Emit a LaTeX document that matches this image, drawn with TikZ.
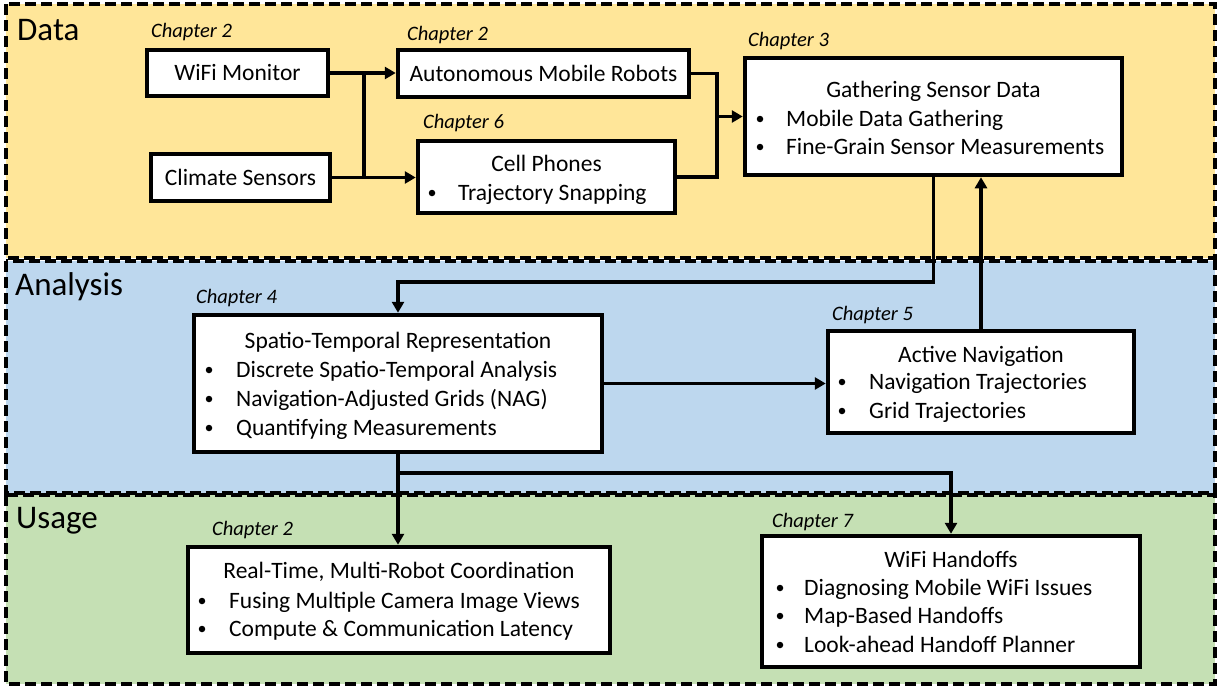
\documentclass[tikz,border=0pt]{standalone}
\usepackage{fontspec}
\setmainfont{Carlito}
\usetikzlibrary{arrows.meta,calc}
\definecolor{bandyellow}{HTML}{FFE699}
\definecolor{bandblue}{HTML}{BDD7EE}
\definecolor{bandgreen}{HTML}{C5E0B4}
\begin{document}
\begin{tikzpicture}[x=1pt,y=-1pt,
  band/.style={draw=black, line width=3.4pt, dash pattern=on 11pt off 5pt},
  box/.style={draw=black, line width=4.5pt, fill=white, inner sep=0pt,
              font=\fontsize{23.5}{28}\selectfont},
  conn/.style={draw=black, line width=3.6pt},
  arr/.style={conn, -{Triangle[length=11pt,width=12pt]}},
  chap/.style={anchor=base west, inner sep=0pt, font=\fontsize{20.5}{24}\selectfont\itshape},
  head/.style={anchor=base west, inner sep=0pt, font=\fontsize{33}{40}\selectfont},
  ttl/.style={anchor=base, inner sep=0pt, font=\fontsize{23.5}{28}\selectfont},
  itm/.style={anchor=base west, inner sep=0pt, font=\fontsize{23.5}{28}\selectfont},
  dot/.style={circle, fill=black, inner sep=0pt, minimum size=6.5pt},
]
\useasboundingbox (0,0) rectangle (1218,688);

% three stages as dashed bands
\path[band, fill=bandyellow] (6,4) rectangle (1215,258);
\path[band, fill=bandblue]   (6,261) rectangle (1215,493);
\path[band, fill=bandgreen]  (6,495) rectangle (1215,684);
\node[head] (hdata) at (17,40) {Data};
\node[head] (hanalysis) at (15,295) {Analysis};
\node[head] (husage) at (16,528) {Usage};

% boxes
\node[box, minimum width=181, minimum height=46] (wifi) at (237.5,73) {WiFi Monitor};
\node[box, minimum width=179, minimum height=47] (climate) at (240.5,177.5) {Climate Sensors};
\node[box, minimum width=291, minimum height=47] (amr) at (543.5,73.5) {Autonomous Mobile Robots};
\node[box, minimum width=257, minimum height=72] (cell) at (546.5,177) {};
\node[box, minimum width=377, minimum height=117] (gsd) at (933.5,116.5) {};
\node[box, minimum width=408, minimum height=137] (spatio) at (398,383.5) {};
\node[box, minimum width=306, minimum height=102] (an) at (981,382) {};
\node[box, minimum width=422, minimum height=106] (rt) at (399,600) {};
\node[box, minimum width=378, minimum height=131] (wh) at (951,601.5) {};

% chapter captions
\node[chap] (c-wifi) at (151,37) {Chapter 2};
\node[chap] (c-amr) at (407,40) {Chapter 2};
\node[chap] (c-cell) at (423,128) {Chapter 6};
\node[chap] (c-gsd) at (748,46) {Chapter 3};
\node[chap] (c-spatio) at (196,303) {Chapter 4};
\node[chap] (c-an) at (832,320) {Chapter 5};
\node[chap] (c-rt) at (212,535) {Chapter 2};
\node[chap] (c-wh) at (772,527) {Chapter 7};

% box contents: title and bullet items
\newcommand{\bulletitem}[5]{%
  \node[dot] (#1-d) at (#2,#4-7) {};
  \node[itm] (#1) at (#3,#4) {#5};}

\node[ttl] (cell-t) at (546.5,171) {Cell Phones};
\bulletitem{cell-1}{432}{458}{200}{Trajectory Snapping}

\node[ttl] (gsd-t) at (933.5,97) {Gathering Sensor Data};
\bulletitem{gsd-1}{760}{786}{126}{Mobile Data Gathering}
\bulletitem{gsd-2}{760}{786}{154}{Fine-Grain Sensor Measurements}

\node[ttl] (spatio-t) at (398,348) {Spatio-Temporal Representation};
\bulletitem{spatio-1}{209}{236}{377}{Discrete Spatio-Temporal Analysis}
\bulletitem{spatio-2}{209}{236}{406}{Navigation-Adjusted Grids (NAG)}
\bulletitem{spatio-3}{209}{236}{435}{Quantifying Measurements}

\node[ttl] (an-t) at (981,362) {Active Navigation};
\bulletitem{an-1}{842}{869}{389}{Navigation Trajectories}
\bulletitem{an-2}{842}{869}{418}{Grid Trajectories}

\node[ttl] (rt-t) at (399,578) {Real-Time, Multi-Robot Coordination};
\bulletitem{rt-1}{202}{229}{608}{Fusing Multiple Camera Image Views}
\bulletitem{rt-2}{202}{229}{636}{Compute \& Communication Latency}

\node[ttl] (wh-t) at (951,567) {WiFi Handoffs};
\bulletitem{wh-1}{780}{804}{595}{Diagnosing Mobile WiFi Issues}
\bulletitem{wh-2}{780}{804}{623}{Map-Based Handoffs}
\bulletitem{wh-3}{780}{804}{652}{Look-ahead Handoff Planner}

% connectors
\coordinate (j1) at (364,0);
\coordinate (j2) at (717,0);
\coordinate (bend) at (398,282);
\coordinate (split) at (398,473);

\draw[conn, line width=4.6pt] (wifi.east -| j1) -- (climate.east -| j1);
\draw[arr] (wifi.east) -- (wifi.east -| amr.west);
\draw[arr] (climate.east) -- (climate.east -| cell.west);
\draw[conn] (amr.east) -| (j2 |- cell.east) -- (cell.east);
\draw[arr] (j2 |- gsd.west) -- (gsd.west);
\draw[arr] (gsd.south) |- (bend) -- (spatio.north);
\draw[arr] (an.north) -- (an.north |- gsd.south);
\draw[arr] (spatio.east) -- (spatio.east -| an.west);
\draw[arr] (spatio.south) -- (spatio.south |- rt.north);
\draw[arr] (split) -| (wh.north);
\end{tikzpicture}
\end{document}
